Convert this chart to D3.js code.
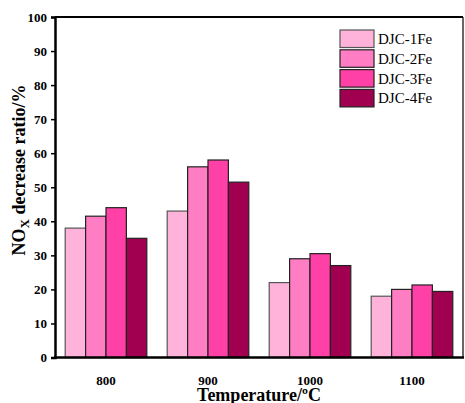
<!DOCTYPE html>
<html><head><meta charset="utf-8">
<script src="https://cdn.jsdelivr.net/npm/d3@7"></script>
<style>body{margin:0;background:#fff}svg{display:block}</style>
</head><body>
<svg id="chart" width="465" height="403"></svg>
<script>
const categories = ["800", "900", "1000", "1100"];
const seriesNames = ["DJC-1Fe", "DJC-2Fe", "DJC-3Fe", "DJC-4Fe"];
const s1 = [38, 43, 22, 18];
const s2 = [41.5, 56, 29, 20];
const s3 = [44, 58, 30.5, 21.3];
const s4 = [35, 51.5, 27, 19.4];
const yTicks = [0, 10, 20, 30, 40, 50, 60, 70, 80, 90, 100];
const colors = ["#FFB3DA", "#FF7EC3", "#FF40A6", "#A0004F"];
const strokes = ["#555", "#222", "#222", "#222"];

const series = [s1, s2, s3, s4];
const svg = d3.select("#chart");
const L = 55, R = 463, T = 17, B = 357.5;
const font = "'Liberation Serif','Times New Roman',serif";

const x0 = d3.scaleBand().domain(categories).range([L, R]).paddingInner(0.2).paddingOuter(0.1);
const x1 = d3.scaleBand().domain(seriesNames).range([0, x0.bandwidth()]);
const y = d3.scaleLinear().domain([0, 100]).range([B, T]);

// bars
const g = svg.append("g");
categories.forEach((c, ci) => {
  seriesNames.forEach((s, si) => {
    g.append("rect")
      .attr("x", x0(c) + x1(s))
      .attr("y", y(series[si][ci]))
      .attr("width", x1.bandwidth())
      .attr("height", B - y(series[si][ci]))
      .attr("fill", colors[si])
      .attr("stroke", strokes[si])
      .attr("stroke-width", 1.2);
  });
});

// frame top/right
svg.append("line").attr("x1", L).attr("x2", R).attr("y1", T).attr("y2", T).attr("stroke", "#000").attr("stroke-width", 2);
svg.append("line").attr("x1", R).attr("x2", R).attr("y1", T).attr("y2", B).attr("stroke", "#000").attr("stroke-width", 1.2);

// y axis
const ya = svg.append("g").attr("transform", `translate(${L},0)`)
  .call(d3.axisLeft(y).tickValues(yTicks).tickSize(4).tickPadding(4).tickFormat(d3.format("d")));
ya.select(".domain").attr("stroke-width", 2.5);
ya.selectAll(".tick line").attr("stroke-width", 1.5);
ya.selectAll("text").attr("font-family", font).attr("font-weight", "bold").attr("font-size", 13).attr("fill", "#000");

// x axis
const xa = svg.append("g").attr("transform", `translate(0,${B})`)
  .call(d3.axisBottom(x0).tickSize(0).tickPadding(18));
xa.select(".domain").attr("stroke-width", 2.5).attr("d", `M${L - 1},0H${R + 1}`);
xa.selectAll("text").attr("font-family", font).attr("font-weight", "bold").attr("font-size", 13).attr("fill", "#000");

// axis titles
svg.append("text").attr("x", 259).attr("y", 401).attr("text-anchor", "middle")
  .attr("font-family", font).attr("font-weight", "bold").attr("font-size", 18).text("Temperature/ºC");

const yt = svg.append("text").attr("transform", "translate(25,170) rotate(-90)").attr("text-anchor", "middle")
  .attr("font-family", font).attr("font-weight", "bold").attr("font-size", 18);
yt.append("tspan").text("NO");
yt.append("tspan").attr("font-size", 13).attr("dy", 4).text("X");
yt.append("tspan").attr("dy", -4).text(" decrease ratio/%");

// legend
const lg = svg.append("g");
seriesNames.forEach((s, i) => {
  const yy = 30 + i * 19.8;
  lg.append("rect").attr("x", 340).attr("y", yy).attr("width", 34).attr("height", 17.5)
    .attr("fill", colors[i]).attr("stroke", strokes[i]).attr("stroke-width", 1.2);
  lg.append("text").attr("x", 378).attr("y", yy + 14).attr("font-family", font)
    .attr("font-size", 15).attr("fill", "#000").text(s);
});
</script>
</body></html>
